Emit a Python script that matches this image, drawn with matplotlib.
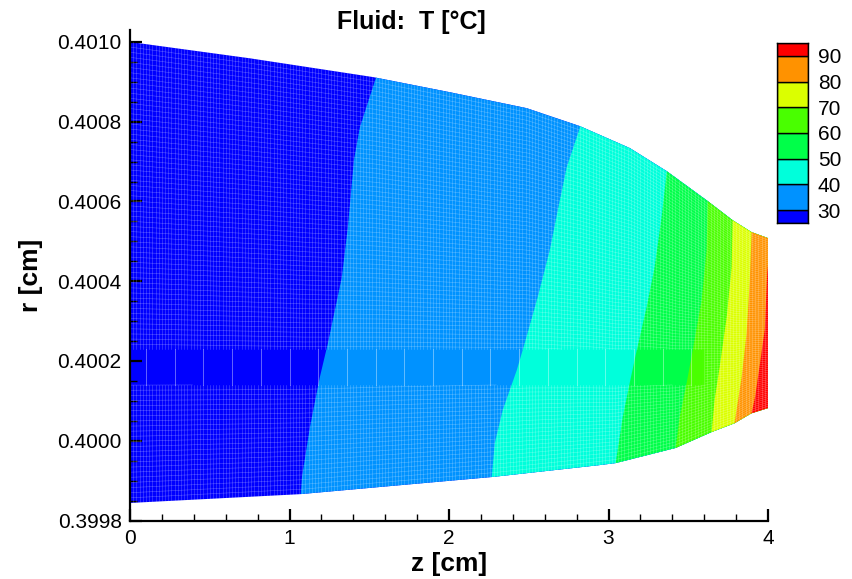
import numpy as np
import matplotlib.pyplot as plt
from matplotlib.patches import Polygon
from matplotlib.ticker import MultipleLocator, FormatStrFormatter

plt.rcParams['font.family'] = ['Liberation Sans', 'DejaVu Sans']

# channel boundaries, z [cm] / r [cm]
top_z = [0.0, 0.752, 1.523, 2.005, 2.487, 2.820, 3.133, 3.365, 3.615, 3.778, 3.897, 4.0]
top_r = [0.40100, 0.400959, 0.400912, 0.400874, 0.400834, 0.400789, 0.400734,
         0.400676, 0.400603, 0.400553, 0.400523, 0.400508]
bot_z = [0.0, 1.065, 1.566, 2.268, 2.945, 3.045, 3.421, 3.647, 3.790, 3.897, 4.0]
bot_r = [0.399844, 0.399866, 0.399884, 0.399909, 0.399939, 0.399944, 0.399982,
         0.400022, 0.400044, 0.400069, 0.400082]

# isotherms (bottom -> top)
levels = [30, 40, 50, 60, 70, 80, 90]
iso_z = [
    [1.071, 1.078, 1.128, 1.190, 1.241, 1.328, 1.366, 1.404, 1.441, 1.541],
    [2.268, 2.287, 2.337, 2.425, 2.475, 2.556, 2.632, 2.682, 2.738, 2.820],
    [3.045, 3.089, 3.133, 3.177, 3.239, 3.289, 3.333, 3.365],
    [3.421, 3.446, 3.490, 3.528, 3.584, 3.615, 3.622],
    [3.647, 3.665, 3.697, 3.741, 3.772, 3.778],
    [3.790, 3.835, 3.866, 3.885, 3.897],
    [3.897, 3.920, 3.950, 3.980, 3.995, 4.01],
]
iso_r = [
    [0.399869, 0.399909, 0.400034, 0.400159, 0.400245, 0.400410, 0.400536, 0.400704, 0.400786, 0.400909],
    [0.399909, 0.399994, 0.400077, 0.400177, 0.400245, 0.400360, 0.400478, 0.400578, 0.400686, 0.400784],
    [0.399944, 0.400059, 0.400145, 0.400227, 0.400335, 0.400435, 0.400561, 0.400673],
    [0.399982, 0.400059, 0.400145, 0.400227, 0.400353, 0.400478, 0.400603],
    [0.400022, 0.400102, 0.400185, 0.400310, 0.400435, 0.400548],
    [0.400044, 0.400160, 0.400270, 0.400395, 0.400521],
    [0.400069, 0.400112, 0.400195, 0.400280, 0.400420, 0.400480],
]
band_colors = ['#0000ff', '#0092ff', '#00ffdb', '#00ff49', '#49ff00',
               '#dbff00', '#ff9200', '#ff0000']
yticks = [0.3998, 0.4000, 0.4002, 0.4004, 0.4006, 0.4008, 0.4010]
xticks = [0, 1, 2, 3, 4]

fig = plt.figure(figsize=(8.52, 5.79), dpi=100)
ax = fig.add_axes([130 / 852, 1 - 520.5 / 579, 638 / 852, 490.5 / 579])

lo, hi = 0.3996, 0.4012
dom_xy = list(zip(top_z, top_r)) + list(zip(bot_z[::-1], bot_r[::-1]))
domain = Polygon(dom_xy, closed=True, facecolor='none', edgecolor='none')
ax.add_patch(domain)

# painter's order: each band covers everything right of its isotherm
base = ax.fill([-1, 5, 5, -1], [lo, lo, hi, hi], color=band_colors[0], lw=0)[0]
base.set_clip_path(domain)
for k in range(len(levels)):
    zz = [iso_z[k][0]] + iso_z[k] + [iso_z[k][-1], 5, 5]
    rr = [lo] + iso_r[k] + [hi, hi, lo]
    p = ax.fill(zz, rr, color=band_colors[k + 1], lw=0)[0]
    p.set_clip_path(domain)

# mesh overlay
gap_lo, gap_hi, gap_end = 0.40014, 0.40023, 3.6
mesh_kw = dict(color='white', alpha=0.28, lw=0.45)
zcols = np.linspace(0, 4, 201)[1:-1]
for i, zc in enumerate(zcols):
    rb = np.interp(zc, bot_z, bot_r)
    rt = np.interp(zc, top_z, top_r)
    if zc < gap_end:
        ax.plot([zc, zc], [rb, gap_lo], **mesh_kw)
        ax.plot([zc, zc], [gap_hi, rt], **mesh_kw)
        if i % 9 == 4:
            ax.plot([zc, zc], [gap_lo, gap_hi], color='white', alpha=0.45, lw=0.6)
    else:
        ax.plot([zc, zc], [rb, rt], **mesh_kw)
zf = np.linspace(0, 4, 400)
rbf = np.interp(zf, bot_z, bot_r)
rtf = np.interp(zf, top_z, top_r)
for s in np.linspace(0, 1, 91)[1:-1]:
    rl = rbf + s * (rtf - rbf)
    rl = np.where((rl > gap_lo) & (rl < gap_hi) & (zf < gap_end), np.nan, rl)
    ax.plot(zf, rl, **mesh_kw)

ax.set_xlim(0, 4)
ax.set_ylim(0.3998, 0.40103)
ax.spines['top'].set_visible(False)
ax.spines['right'].set_visible(False)
for sp in ('left', 'bottom'):
    ax.spines[sp].set_linewidth(1.6)
ax.set_xticks(xticks)
ax.set_yticks(yticks)
ax.xaxis.set_minor_locator(MultipleLocator(0.2))
ax.yaxis.set_minor_locator(MultipleLocator(0.00005))
ax.yaxis.set_major_formatter(FormatStrFormatter('%.4f'))
ax.tick_params(which='both', direction='in', labelsize=15)
ax.tick_params(which='major', length=8.5, width=1.6, pad=6)
ax.tick_params(which='minor', length=5, width=1.0)
ax.set_xlabel('z [cm]', fontsize=19, fontweight='bold', labelpad=3)
ax.set_ylabel('r [cm]', fontsize=19, fontweight='bold', labelpad=10)
fig.text(411.5 / 852, 1 - 22 / 579, 'Fluid:  T [°C]', fontsize=18, fontweight='bold',
         ha='center', va='center')

# legend bar
cax = fig.add_axes([777 / 852, 1 - 223 / 579, 31 / 852, 180 / 579])
bounds = [levels[0] - 5] + levels + [levels[-1] + 5]
for k in range(len(band_colors)):
    cax.bar(0, bounds[k + 1] - bounds[k], bottom=bounds[k], width=1,
            color=band_colors[k], edgecolor='black', lw=1)
cax.set_xlim(-0.5, 0.5)
cax.set_ylim(bounds[0], bounds[-1])
cax.set_xticks([])
cax.yaxis.tick_right()
cax.set_yticks(levels)
cax.tick_params(length=0, labelsize=15, pad=7)
for sp in cax.spines.values():
    sp.set_linewidth(1)

fig.savefig('out.png', dpi=100)
